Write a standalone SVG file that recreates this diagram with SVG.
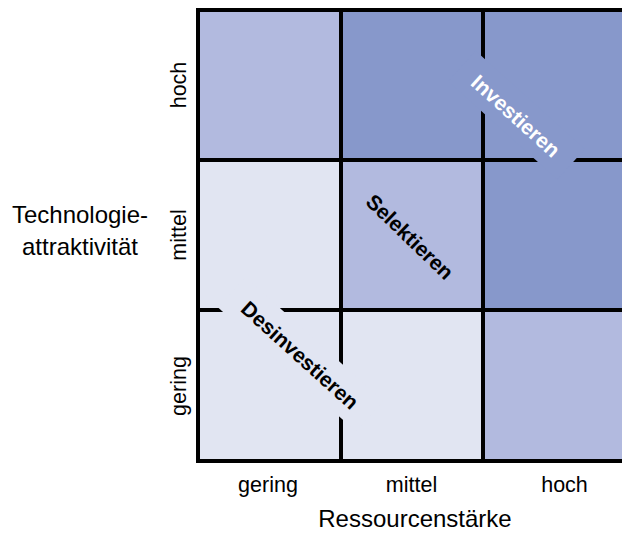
<svg xmlns="http://www.w3.org/2000/svg" width="622" height="537" viewBox="0 0 622 537">
  <style>
    .light { fill: #E1E5F2; }
    .mid { fill: #B2BADF; }
    .dark { fill: #8798CB; }
    .grid line { stroke: #000; stroke-width: 4; stroke-linecap: square; }
    .tick { font-family: "Liberation Sans", Arial, sans-serif; font-size: 21.5px; fill: #000; text-anchor: middle; }
    .title { font-family: "Liberation Sans", Arial, sans-serif; font-size: 24px; fill: #000; text-anchor: middle; }
    .quad { font-family: "Liberation Sans", Arial, sans-serif; font-size: 21px; font-weight: bold; text-anchor: middle; }
  </style>
  <rect width="622" height="537" fill="#fff"/>
  <g id="cells">
    <rect class="mid" x="198" y="10" width="143" height="150"/>
    <rect class="dark" x="341" y="10" width="142" height="150"/>
    <rect class="dark" x="483" y="10" width="145" height="150"/>
    <rect class="light" x="198" y="160" width="143" height="150"/>
    <rect class="mid" x="341" y="160" width="142" height="150"/>
    <rect class="dark" x="483" y="160" width="145" height="150"/>
    <rect class="light" x="198" y="310" width="143" height="151"/>
    <rect class="light" x="341" y="310" width="142" height="151"/>
    <rect class="mid" x="483" y="310" width="145" height="151"/>
  </g>
  <g id="grid" class="grid">
    <line x1="198" y1="10" x2="630" y2="10"/>
    <line x1="198" y1="160" x2="630" y2="160"/>
    <line x1="198" y1="310" x2="630" y2="310"/>
    <line x1="198" y1="461" x2="630" y2="461"/>
    <line x1="198" y1="10" x2="198" y2="461"/>
    <line x1="341" y1="10" x2="341" y2="461"/>
    <line x1="483" y1="10" x2="483" y2="461"/>
  </g>
  <g id="investieren">
    <rect class="dark" x="437.3" y="92.4" width="147" height="41" transform="rotate(42 510.8 121.4)"/>
    <text class="quad" x="510.8" y="121.4" fill="#fff" transform="rotate(42 510.8 121.4)">Investieren</text>
  </g>
  <g id="selektieren">
    <text class="quad" x="404.8" y="242.1" fill="#000" transform="rotate(44 404.8 242.1)">Selektieren</text>
  </g>
  <g id="desinvestieren">
    <rect class="light" x="202.3" y="331.6" width="185.4" height="41" transform="rotate(42 295 360.6)"/>
    <text class="quad" x="295" y="360.6" fill="#000" transform="rotate(42 295 360.6)">Desinvestieren</text>
  </g>
  <g id="y-axis">
    <text class="tick" x="185.5" y="85" transform="rotate(-90 185.5 85)" dy="0">hoch</text>
    <text class="tick" x="185.5" y="235" transform="rotate(-90 185.5 235)">mittel</text>
    <text class="tick" x="185.5" y="386" transform="rotate(-90 185.5 386)">gering</text>
    <text class="title" x="80" y="223">Technologie-</text>
    <text class="title" x="80" y="255">attraktivität</text>
  </g>
  <g id="x-axis">
    <text class="tick" x="268" y="492">gering</text>
    <text class="tick" x="411.5" y="492">mittel</text>
    <text class="tick" x="564.5" y="492">hoch</text>
    <text class="title" x="415" y="527">Ressourcenstärke</text>
  </g>
</svg>
